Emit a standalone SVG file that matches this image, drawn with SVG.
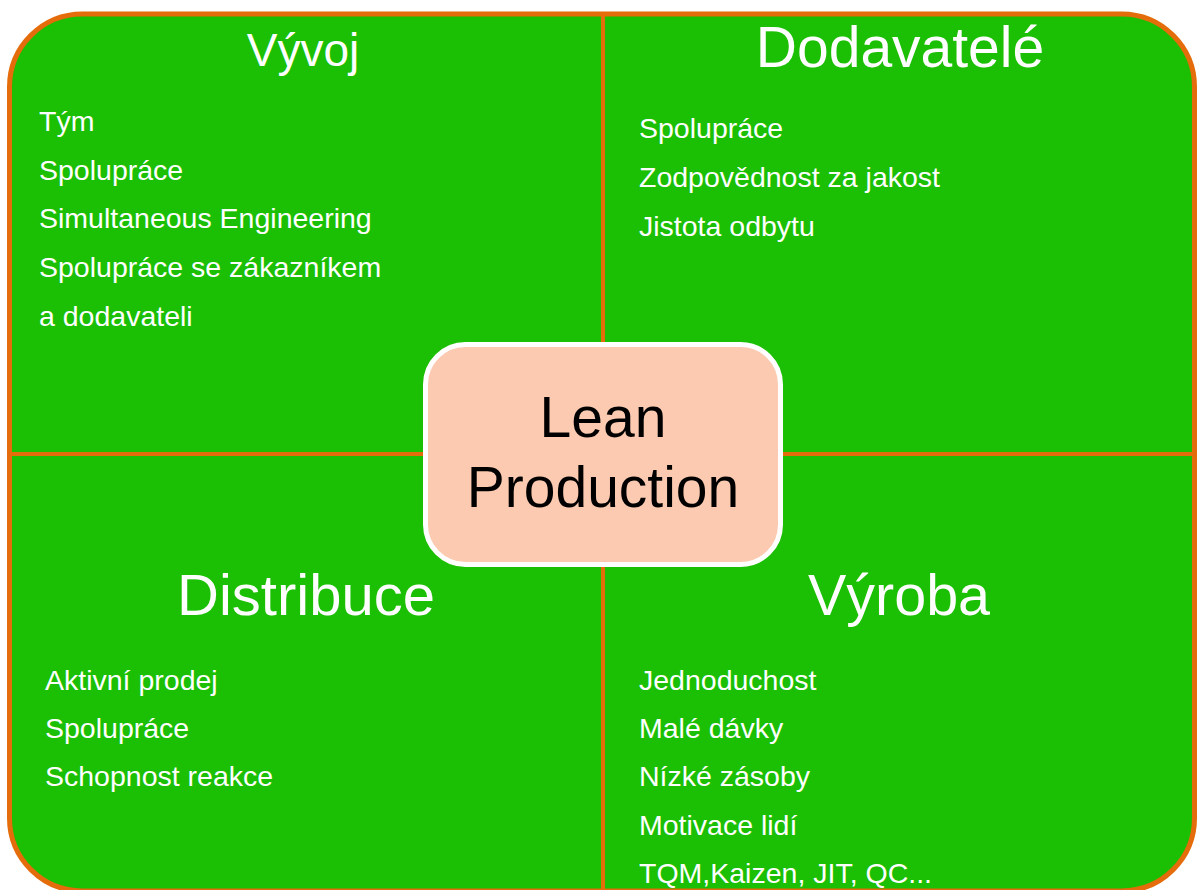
<svg xmlns="http://www.w3.org/2000/svg" width="1197" height="890" viewBox="0 0 1197 890">
  <style>
    .frame { fill: #1bbf03; stroke: #e46c0a; stroke-width: 5; }
    .divider { stroke: #e46c0a; stroke-width: 4; fill: none; }
    .core { fill: #fbcab0; stroke: #ffffff; stroke-width: 5; }
    .head { font-family: "Liberation Sans", Arial, sans-serif; fill: #ffffff; text-anchor: middle; }
    .item { font-family: "Liberation Sans", Arial, sans-serif; font-size: 28.5px; fill: #ffffff; }
    .core-label { font-family: "Liberation Sans", Arial, sans-serif; font-size: 57px; fill: #000000; text-anchor: middle; }
  </style>

  <!-- background panel -->
  <rect id="frame" class="frame" x="9.5" y="14" width="1185" height="877" rx="73" ry="73"/>

  <!-- quadrant dividers -->
  <g id="connectors">
    <line class="divider" x1="603" y1="16" x2="603" y2="890"/>
    <line class="divider" x1="12" y1="454" x2="1192" y2="454"/>
  </g>

  <!-- top-left quadrant -->
  <g id="vyvoj">
    <text class="head" x="303" y="66" font-size="46">Vývoj</text>
    <text class="item" x="39" y="131">Tým</text>
    <text class="item" x="39" y="180">Spolupráce</text>
    <text class="item" x="39" y="228">Simultaneous Engineering</text>
    <text class="item" x="39" y="277">Spolupráce se zákazníkem</text>
    <text class="item" x="39" y="326">a dodavateli</text>
  </g>

  <!-- top-right quadrant -->
  <g id="dodavatele">
    <text class="head" x="900" y="67" font-size="57">Dodavatelé</text>
    <text class="item" x="639" y="138">Spolupráce</text>
    <text class="item" x="639" y="187">Zodpovědnost za jakost</text>
    <text class="item" x="639" y="236">Jistota odbytu</text>
  </g>

  <!-- bottom-left quadrant -->
  <g id="distribuce">
    <text class="head" x="306" y="615" font-size="58">Distribuce</text>
    <text class="item" x="45" y="690">Aktivní prodej</text>
    <text class="item" x="45" y="738">Spolupráce</text>
    <text class="item" x="45" y="786">Schopnost reakce</text>
  </g>

  <!-- bottom-right quadrant -->
  <g id="vyroba">
    <text class="head" x="899" y="615" font-size="57.5">Výroba</text>
    <text class="item" x="639" y="690">Jednoduchost</text>
    <text class="item" x="639" y="738">Malé dávky</text>
    <text class="item" x="639" y="786">Nízké zásoby</text>
    <text class="item" x="639" y="835">Motivace lidí</text>
    <text class="item" x="639" y="883">TQM,Kaizen, JIT, QC...</text>
  </g>

  <!-- central box -->
  <g id="lean-production">
    <rect class="core" x="425.5" y="344.5" width="355" height="220" rx="40" ry="40"/>
    <text class="core-label" x="603" y="437">Lean</text>
    <text class="core-label" x="603" y="507">Production</text>
  </g>
</svg>
